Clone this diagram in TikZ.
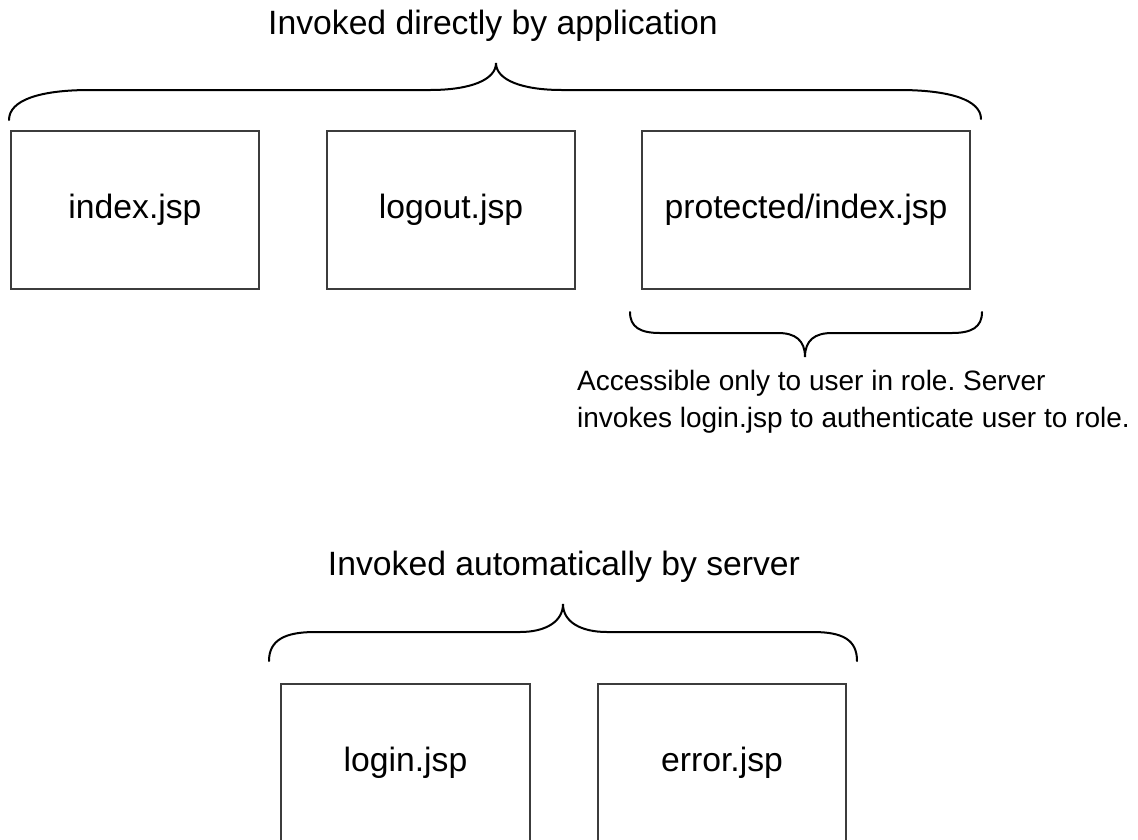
\documentclass[tikz,border=0pt]{standalone}
\usepackage{fontspec}
\setmainfont{Liberation Sans}
\definecolor{boxline}{HTML}{3C3C3C}
\frenchspacing
\begin{document}
\begin{tikzpicture}[x=1pt,y=-1pt,
  page/.style={draw=boxline,line width=1.4pt,fill=white,inner sep=0pt,
    font=\fontsize{33.7}{40}\selectfont},
  brace/.style={draw=black,line width=2pt,line cap=round},
  caption/.style={inner sep=0pt,font=\fontsize{33.7}{40}\selectfont},
  remark/.style={inner sep=0pt,align=left,font=\fontsize{28}{37}\selectfont}]
\useasboundingbox[fill=white] (0,0) rectangle (1138,839);
\clip (0,0) rectangle (1138,839);

% pages reached from the application
\node[caption,anchor=base] (apptitle) at (493,34) {Invoked directly by application};
\node[page,minimum width=248pt,minimum height=158pt] (index) at (135,210) {index.jsp};
\node[page,minimum width=248pt,minimum height=158pt] (logout) at (451,210) {logout.jsp};
\node[page,minimum width=328pt,minimum height=158pt] (protected) at (806,210) {protected/index.jsp};

\draw[brace] (9,120) .. controls (9,100) and (40,90) .. (90,90) -- (430,90)
  .. controls (470,90) and (496,80) .. (496,63)
  .. controls (496,80) and (522,90) .. (562,90) -- (899,90)
  .. controls (950,90) and (981,100) .. (981,119);

% note on the protected page
\draw[brace] (630,312) .. controls (630,327) and (640,333) .. (660,333) -- (778,333)
  .. controls (795,333) and (805,340) .. (805,357)
  .. controls (805,340) and (815,333) .. (832,333) -- (952,333)
  .. controls (972,333) and (982,327) .. (982,312);
\node[remark,anchor=base west] (note) at (577,427)
  {Accessible only to user in role. Server\\invokes login.jsp to authenticate user to role.};

% pages reached by the server
\node[caption,anchor=base] (servertitle) at (564,575) {Invoked automatically by server};
\draw[brace] (269,661) .. controls (269,640) and (285,632) .. (315,632) -- (520,632)
  .. controls (545,632) and (563,622) .. (563,604)
  .. controls (563,622) and (581,632) .. (607,632) -- (813,632)
  .. controls (843,632) and (857,640) .. (857,661);
\node[page,minimum width=249pt,minimum height=158pt] (login) at (405.5,763) {login.jsp};
\node[page,minimum width=248pt,minimum height=158pt] (error) at (722,763) {error.jsp};
\end{tikzpicture}
\end{document}
